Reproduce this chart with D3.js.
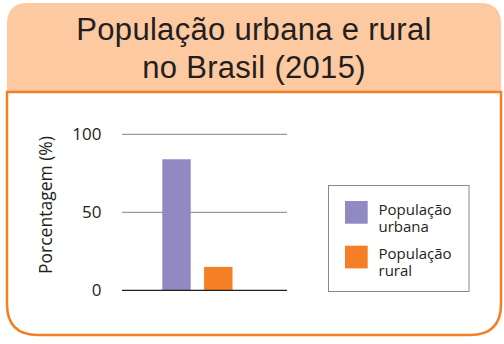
<!DOCTYPE html>
<html><head><meta charset="utf-8">
<script src="https://cdn.jsdelivr.net/npm/d3@7"></script>
<style>body{margin:0;background:#fff}svg{display:block}</style>
</head><body>
<script>
const categories = ["População urbana", "População rural"];
const values = [84, 15];
const legendLines = [["População", "urbana"], ["População", "rural"]];
const yTicks = [0, 50, 100];
const titleLines = ["População urbana e rural", "no Brasil (2015)"];
const yTitle = "Porcentagem (%)";
const colors = ["#9189c1", "#f47f24"];

const W = 504, H = 344;
const svg = d3.select("body").append("svg").attr("width", W).attr("height", H);

// frame
svg.append("path")
  .attr("d", "M7,92 V24 Q7,3 28,3 H480 Q501,3 501,24 V92 Z")
  .attr("fill", "#fdc9a0");
svg.append("path")
  .attr("d", "M7,92 V304 Q7,335 38,335 H470 Q501,335 501,304 V92 Z")
  .attr("fill", "#fff").attr("stroke", "#f47f24").attr("stroke-width", 2.5);

svg.append("text").attr("text-anchor", "middle")
  .attr("font-family", "Liberation Sans, Arial, sans-serif").attr("font-size", 31)
  .attr("letter-spacing", 0.3).attr("fill", "#231f20")
  .selectAll("tspan").data(titleLines).join("tspan")
  .attr("x", 254).attr("y", (d, i) => 40 + i * 38).text(d => d);

const y = d3.scaleLinear().domain([0, 100]).range([290.3, 134.3]);
const x = d3.scaleBand().domain(categories).range([141.4, 253.4]).paddingInner(0.32).paddingOuter(0.5);

const g = svg.append("g");
g.selectAll("line.grid").data(yTicks.filter(d => d > 0)).join("line")
  .attr("x1", 122).attr("x2", 287).attr("y1", d => y(d)).attr("y2", d => y(d))
  .attr("stroke", "#808080").attr("stroke-width", 1);

g.selectAll("rect.bar").data(values).join("rect")
  .attr("x", (d, i) => x(categories[i])).attr("width", x.bandwidth())
  .attr("y", d => y(d)).attr("height", d => y(0) - y(d))
  .attr("fill", (d, i) => colors[i]);

g.append("line").attr("x1", 122).attr("x2", 287).attr("y1", y(0)).attr("y2", y(0))
  .attr("stroke", "#231f20").attr("stroke-width", 1.3);

g.selectAll("text.tick").data(yTicks).join("text")
  .attr("x", 101.5).attr("y", d => y(d)).attr("dy", "0.36em").attr("text-anchor", "end")
  .attr("font-family", "Open Sans, sans-serif").attr("font-size", 17).attr("fill", "#231f20")
  .text(d => d);

svg.append("text").attr("transform", "translate(51.5,205) rotate(-90)").attr("text-anchor", "middle")
  .attr("font-family", "Open Sans, sans-serif").attr("font-size", 17.5).attr("fill", "#231f20")
  .text(yTitle);

// legend
svg.append("rect").attr("x", 328.5).attr("y", 185.5).attr("width", 140.5).attr("height", 106)
  .attr("fill", "none").attr("stroke", "#888").attr("stroke-width", 1);
const lg = svg.selectAll("g.leg").data(categories).join("g")
  .attr("transform", (d, i) => `translate(345,${201 + i * 44.7})`);
lg.append("rect").attr("width", 22.7).attr("height", 22.7).attr("fill", (d, i) => colors[i]);
lg.each(function(d, i) {
  d3.select(this).selectAll("text").data(legendLines[i]).join("text")
    .attr("x", 33.5).attr("y", (t, j) => 13.5 + j * 17)
    .attr("font-family", "Open Sans, sans-serif").attr("font-size", 15).attr("fill", "#231f20")
    .text(t => t);
});
</script>
</body></html>
